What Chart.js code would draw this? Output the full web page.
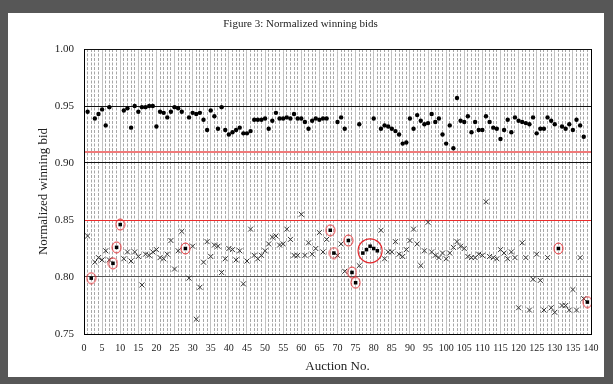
<!DOCTYPE html>
<html><head><meta charset="utf-8">
<script src="https://cdn.jsdelivr.net/npm/chart.js@4"></script>
<style>
html,body{margin:0;padding:0;background:#575757;overflow:hidden;}
#panel{position:absolute;left:8px;top:13px;width:596px;height:364px;background:#fff;}
#wrap{position:absolute;left:0;top:0;width:613px;height:384px;}
</style></head><body>
<div id="panel"></div>
<div id="wrap"><canvas id="c" width="613" height="384"></canvas></div>
<script>
// ---- data ----
const circleAuction = [1,3,4,5,6,7,11,12,13,14,15,16,17,18,19,20,21,22,23,24,25,26,27,29,30,31,32,33,34,35,36,37,38,39,40,41,42,43,44,45,46,47,48,49,50,51,52,53,54,55,56,57,58,59,60,61,62,63,64,65,66,67,70,71,72,76,80,82,83,84,85,86,87,88,89,90,91,92,93,94,95,96,97,98,99,100,101,102,103,104,105,106,107,108,109,110,111,112,113,114,115,116,117,118,119,120,121,122,123,124,125,126,127,128,129,130,132,133,134,135,136,137,138];
const circleBid = [0.945,0.939,0.943,0.947,0.933,0.949,0.946,0.948,0.931,0.950,0.945,0.949,0.949,0.950,0.950,0.932,0.945,0.944,0.940,0.945,0.949,0.948,0.945,0.940,0.944,0.943,0.944,0.938,0.929,0.946,0.941,0.930,0.949,0.929,0.925,0.927,0.929,0.931,0.926,0.926,0.928,0.938,0.938,0.938,0.939,0.930,0.937,0.944,0.939,0.939,0.940,0.939,0.943,0.939,0.939,0.936,0.930,0.937,0.939,0.938,0.939,0.939,0.936,0.940,0.930,0.934,0.939,0.930,0.933,0.932,0.930,0.928,0.925,0.917,0.918,0.939,0.930,0.942,0.937,0.934,0.935,0.943,0.936,0.939,0.925,0.917,0.933,0.913,0.957,0.937,0.936,0.941,0.927,0.936,0.929,0.929,0.941,0.936,0.931,0.930,0.921,0.929,0.938,0.927,0.940,0.937,0.936,0.935,0.934,0.940,0.926,0.930,0.930,0.940,0.937,0.934,0.932,0.930,0.934,0.929,0.938,0.933,0.923];

const crossAuction = [1,3,4,5,6,7,11,12,13,14,15,16,17,18,19,20,21,22,23,24,25,26,27,29,30,31,32,33,34,35,36,37,38,39,40,41,42,43,44,45,46,47,48,49,50,51,52,53,54,55,56,57,58,59,60,61,62,63,64,65,66,67,70,71,72,76,82,83,84,85,86,87,88,89,90,91,92,93,94,95,96,97,98,99,100,101,102,103,104,105,106,107,108,109,110,111,112,113,114,115,116,117,118,119,120,121,122,123,124,125,126,127,128,129,130,132,133,134,135,136,137,138];
const crossBid = [0.836,0.813,0.817,0.815,0.823,0.815,0.816,0.822,0.814,0.822,0.818,0.793,0.820,0.819,0.822,0.824,0.817,0.816,0.820,0.832,0.807,0.823,0.840,0.799,0.827,0.763,0.791,0.813,0.831,0.818,0.828,0.827,0.804,0.816,0.825,0.824,0.815,0.823,0.794,0.814,0.842,0.819,0.816,0.819,0.823,0.829,0.835,0.836,0.828,0.829,0.842,0.833,0.819,0.819,0.855,0.819,0.830,0.820,0.825,0.839,0.822,0.833,0.819,0.829,0.805,0.810,0.841,0.816,0.822,0.822,0.831,0.820,0.818,0.824,0.832,0.842,0.829,0.810,0.823,0.848,0.822,0.819,0.817,0.821,0.816,0.821,0.826,0.831,0.827,0.825,0.818,0.817,0.817,0.820,0.819,0.866,0.818,0.817,0.816,0.824,0.821,0.816,0.822,0.817,0.773,0.830,0.817,0.771,0.798,0.820,0.797,0.771,0.817,0.773,0.769,0.775,0.775,0.771,0.789,0.771,0.817,0.781];

const squareAuction = [2,8,9,10,28,68,69,73,74,75,77,78,79,80,81,131,139];
const squareBid = [0.799,0.812,0.826,0.846,0.825,0.841,0.821,0.832,0.804,0.795,0.821,0.824,0.827,0.825,0.823,0.825,0.778];

const flaggedAuction = [2,8,9,10,28,68,69,73,74,75,131,139];   // single red rings
const clusterAuction = [79];                                  // big red ring
const clusterBid = [0.823];

const refLines = [0.85, 0.91];
const xMin = 0, xMax = 140, xStep = 5;
const yMin = 0.75, yMax = 1.00, yStep = 0.05;

// ---- build ----
const pts = (xs, ys) => xs.map((x, i) => ({x, y: ys[i]}));
const flagged = pts(squareAuction, squareBid).filter(p => flaggedAuction.includes(p.x));

function ellipseImg(w, h){
  const c = document.createElement('canvas');
  c.width = w + 2; c.height = h + 2;
  const g = c.getContext('2d');
  g.strokeStyle = '#e3262b'; g.lineWidth = 1;
  g.beginPath(); g.ellipse((w+2)/2, (h+2)/2, w/2, h/2, 0, 0, Math.PI*2); g.stroke();
  return c;
}
const ring = ellipseImg(9, 11);
const serif = 'Liberation Serif';
const isFirstRef = c => c.tick && Math.abs(c.tick.value - refLines[0]) < 1e-6;

const datasets = [
  {data: pts(circleAuction, circleBid), pointStyle: 'circle', pointRadius: 2.2, backgroundColor: '#000', borderColor: '#000', borderWidth: 0, order: 3},
  {data: pts(crossAuction, crossBid), pointStyle: 'crossRot', pointRadius: 3.5, borderColor: '#333', borderWidth: 1, order: 4},
  {data: pts(squareAuction, squareBid), pointStyle: 'rect', pointRadius: 2.5, backgroundColor: '#000', borderColor: '#000', borderWidth: 0, order: 2},
  {data: flagged, pointStyle: ring, pointRadius: 5, order: 1},
  {data: pts(clusterAuction, clusterBid), pointStyle: 'circle', pointRadius: 12, backgroundColor: 'rgba(0,0,0,0)', borderColor: '#e3262b', borderWidth: 1.2, order: 0}
];

new Chart(document.getElementById('c'), {
  type: 'scatter',
  data: {datasets},
  options: {
    responsive: false, animation: false, devicePixelRatio: 1,
    layout: {padding: {left: 10, right: 22, top: 10, bottom: 10}},
    plugins: {
      legend: {display: false}, tooltip: {enabled: false},
      title: {display: true, text: 'Figure 3: Normalized winning bids',
        font: {family: serif, size: 11, weight: 'normal'}, color: '#222',
        padding: {top: 8, bottom: 17.8}}
    },
    scales: {
      x: {
        type: 'linear', position: 'bottom', min: xMin, max: xMax,
        ticks: {stepSize: xStep, autoSkip: false, maxRotation: 0, padding: 8,
          font: {family: serif, size: 10}, color: '#222'},
        grid: {color: c => (c.tick && (c.tick.value === xMin || c.tick.value === xMax)) ? '#000' : '#c2c2c2',
          lineWidth: 1, drawTicks: false, z: -3},
        border: {color: '#000', width: 1, dash: []},
        title: {display: true, text: 'Auction No.', font: {family: serif, size: 13}, color: '#222', padding: {top: 0, bottom: 0}},
        afterFit: s => { s.height = 40; }
      },
      x2: {
        type: 'linear', position: 'bottom', min: xMin, max: xMax,
        ticks: {display: false, stepSize: 1, autoSkip: false},
        grid: {color: '#a8a8a8', lineWidth: 1, drawTicks: false, z: -4, borderDash: [3, 1.5]},
        border: {display: false, dash: [3, 1.5]},
        afterFit: s => { s.height = 0; }
      },
      y: {
        min: yMin, max: yMax,
        ticks: {stepSize: yStep, padding: 10, callback: v => Number(v).toFixed(2),
          font: {family: serif, size: 11}, color: '#222'},
        grid: {color: c => {
            const v = c.tick ? Math.round(c.tick.value * 100) : 0;
            if (v === 80) return '#555';
            if (v === 85) return 'rgba(0,0,0,0)';
            return '#111';
          }, lineWidth: 1, drawTicks: false, z: -2},
        border: {color: '#000', width: 1},
        title: {display: true, text: 'Normalized winning bid', font: {family: serif, size: 13}, color: '#222', padding: {top: 26, bottom: 0}},
        afterFit: s => { s.width = 74; }
      },
      yRef: {
        type: 'linear', position: 'left', min: yMin, max: yMax,
        afterBuildTicks: s => { s.ticks = refLines.map(v => ({value: v})); },
        ticks: {display: false},
        grid: {color: c => isFirstRef(c) ? '#ec2a2a' : '#f07a7a',
          lineWidth: c => isFirstRef(c) ? 1 : 2, drawTicks: false, z: -1},
        border: {display: false},
        afterFit: s => { s.width = 0; }
      }
    }
  }
});
</script>
</body></html>
